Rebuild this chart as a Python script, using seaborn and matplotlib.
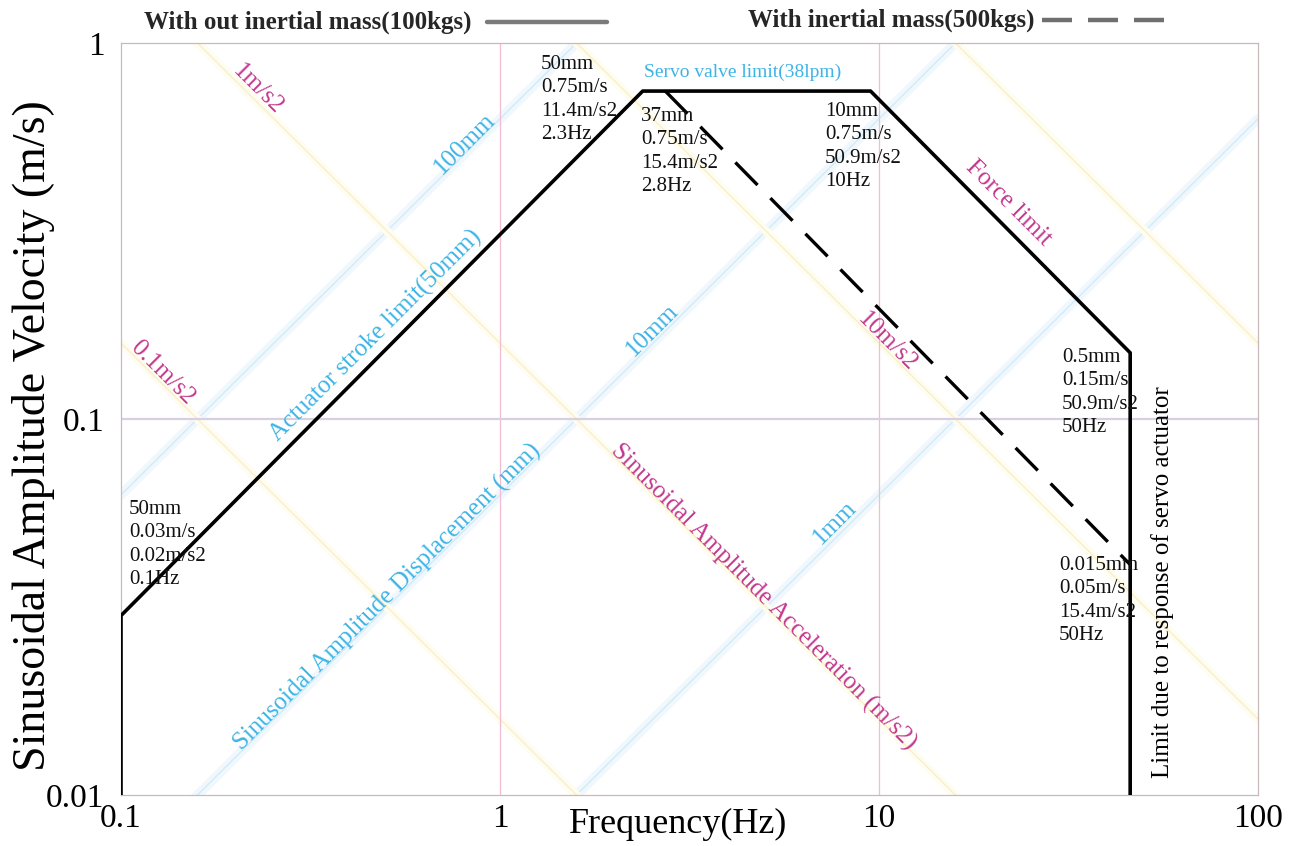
import numpy as np
import matplotlib
matplotlib.use("Agg")
import matplotlib.pyplot as plt
import seaborn as sns
from matplotlib.lines import Line2D
from matplotlib.ticker import NullLocator

# operating envelope, values
solid_freq = [0.1, 0.1, 2.38, 9.5, 46, 46]
solid_vel = [0.01, 0.03, 0.745, 0.745, 0.15, 0.01]
dashed_freq = [2.73, 46]
dashed_vel = [0.745, 0.041]

# faint nomograph lines: constant displacement (m) and constant acceleration (m/s2)
disp_lines = [0.1, 0.01, 0.001]
accel_lines = [0.1, 1, 10, 100]

x_ticks = [0.1, 1, 10, 100]
x_tick_labels = ["0.1", "1", "10", "100"]
y_ticks = [0.01, 0.1, 1]
y_tick_labels = ["0.01", "0.1", "1"]

sns.set_theme(style="white")
plt.rcParams['font.family'] = ['Liberation Serif', 'DejaVu Serif']

W, H = 1308, 846
fig = plt.figure(figsize=(W / 100, H / 100), dpi=100)
fig.patch.set_facecolor('white')
ax = fig.add_axes([121 / W, 1 - 795 / H, (1258 - 121) / W, (795 - 43) / H])
ax.set_xscale('log')
ax.set_yscale('log')
ax.set_xlim(0.1, 100)
ax.set_ylim(0.01, 1)


def pix(px, py):
    # pixel position in the picture -> figure fraction
    return px / W, 1 - py / H


# faint iso lines
f_ends = np.array([0.1, 100.0])
for d in disp_lines:
    v = 2 * np.pi * f_ends * d
    ax.plot(f_ends, v, color='#f0f8fd', lw=7, zorder=1)
    ax.plot(f_ends, v, color='#d2ebf8', lw=1.0, zorder=1)
for a in accel_lines:
    v = a / (2 * np.pi * f_ends)
    ax.plot(f_ends, v, color='#fffcf0', lw=6, zorder=1)
    ax.plot(f_ends, v, color='#f8f0cc', lw=1.0, zorder=1)

# grid
ax.axvline(1, color='#f2bcd3', lw=0.9, zorder=1)
ax.axvline(10, color='#f2bcd3', lw=0.9, zorder=1)
ax.axhline(0.1, color='#d8cfe2', lw=1.6, zorder=1)

# envelopes
sns.lineplot(x=solid_freq, y=solid_vel, sort=False, estimator=None,
             color='black', lw=2.6, ax=ax, zorder=3)
sns.lineplot(x=dashed_freq, y=dashed_vel, sort=False, estimator=None,
             color='black', lw=2.4, linestyle=(0, (9.5, 5.5)), ax=ax, zorder=3)

for s in ax.spines.values():
    s.set_color('#c9baba')
    s.set_linewidth(0.9)

ax.set_xticks(x_ticks, x_tick_labels)
ax.set_yticks(y_ticks, y_tick_labels)
ax.xaxis.set_minor_locator(NullLocator())
ax.yaxis.set_minor_locator(NullLocator())
ax.tick_params(axis='both', length=0, labelsize=24, colors='black')
ax.tick_params(axis='x', pad=6)
ax.tick_params(axis='y', pad=12)

ax.set_xlabel('Frequency(Hz)', fontsize=26, color='black')
ax.xaxis.set_label_coords(0.49, -0.017)
ax.set_ylabel('Sinusoidal Amplitude Velocity (m/s)', fontsize=33, color='black')
ax.yaxis.set_label_coords(-0.058, 0.478)

# corner annotations
blocks = [
    ("50mm\n0.75m/s\n11.4m/s2\n2.3Hz", 541, 55),
    ("37mm\n0.75m/s\n15.4m/s2\n2.8Hz", 641, 107),
    ("10mm\n0.75m/s\n50.9m/s2\n10Hz", 825, 102),
    ("0.5mm\n0.15m/s\n50.9m/s2\n50Hz", 1062, 348),
    ("0.015mm\n0.05m/s\n15.4m/s2\n50Hz", 1059, 556),
    ("50mm\n0.03m/s\n0.02m/s2\n0.1Hz", 129, 500),
]
for txt, px, py in blocks:
    fig.text(*pix(px, py), txt, fontsize=15, ha='left', va='top',
             linespacing=1.32, color='#111111', zorder=5)

blue = '#3db4e6'
mag = '#c2388e'
labels = [
    ("Servo valve limit(38lpm)", 743, 72, blue, 0, 14),
    ("1m/s2", 258, 89, mag, -45, 18),
    ("0.1m/s2", 162, 373, mag, -45, 18),
    ("10m/s2", 887, 342, mag, -45, 18),
    ("100mm", 465, 144, blue, 45, 18),
    ("10mm", 652, 330, blue, 45, 18),
    ("1mm", 835, 523, blue, 45, 18),
    ("Actuator stroke limit(50mm)", 376, 336, blue, 45, 18),
    ("Sinusoidal Amplitude Displacement (mm)", 388, 597, blue, 45, 18),
    ("Sinusoidal Amplitude Acceleration (m/s2)", 763, 597, mag, -45, 18),
    ("Force limit", 1008, 203, mag, -45, 18),
    ("Limit due to response of servo actuator", 1163, 582, 'black', 90, 18),
]
for txt, px, py, col, rot, fs in labels:
    fig.text(*pix(px, py), txt, color=col, rotation=rot, fontsize=fs,
             ha='center', va='center', rotation_mode='anchor', zorder=5)

# key at the top
fig.text(*pix(144, 22), 'With out inertial mass(100kgs)', fontweight='bold',
         fontsize=18, ha='left', va='center')
fig.add_artist(Line2D([487 / W, 607 / W], [1 - 22 / H] * 2, color='#7b7b7b', lw=3.2))
fig.text(*pix(748, 20), 'With inertial mass(500kgs)', fontweight='bold',
         fontsize=18, ha='left', va='center')
fig.add_artist(Line2D([1042 / W, 1168 / W], [1 - 20 / H] * 2, color='#6f6f6f', lw=3.2,
                      linestyle=(0, (6.75, 3.6))))

fig.savefig('out.png', dpi=100, facecolor='white')
